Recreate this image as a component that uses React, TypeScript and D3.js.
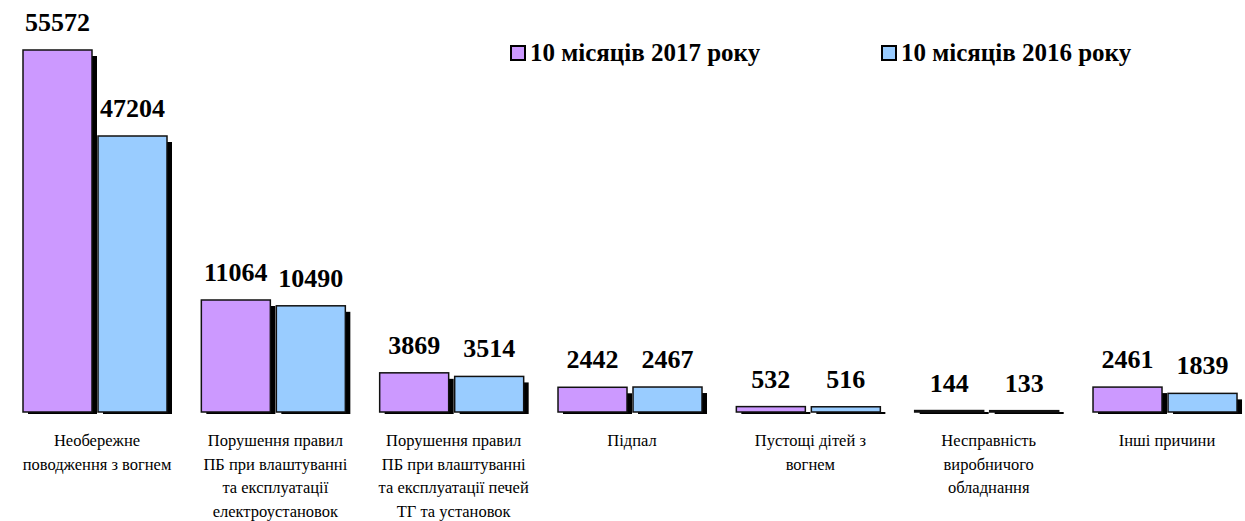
import React from 'react'
import * as d3 from 'd3'

const width = 1245
const height = 521

const categories = [
  ['Необережне', 'поводження з вогнем'],
  ['Порушення правил', 'ПБ при влаштуванні', 'та експлуатації', 'електроустановок'],
  ['Порушення правил', 'ПБ при влаштуванні', 'та експлуатації печей', 'ТГ та установок'],
  ['Підпал'],
  ['Пустощі дітей з', 'вогнем'],
  ['Несправність', 'виробничого', 'обладнання'],
  ['Інші причини'],
]
const series = ['10 місяців 2017 року', '10 місяців 2016 року']
const values2017 = [55572, 11064, 3869, 2442, 532, 144, 2461]
const values2016 = [47204, 10490, 3514, 2467, 516, 133, 1839]
const colors = ['#CC99FF', '#99CCFF']

const baseline = 412
const font = 'Liberation Serif, DejaVu Serif, serif'

export default function App() {
  const x0 = d3.scaleBand<number>()
    .domain(d3.range(categories.length))
    .range([23, 1243])
    .paddingInner(0.159)

  const x1 = d3.scaleBand<number>()
    .domain([0, 1])
    .range([0, 144])
    .paddingInner(0.08)

  // the original chart squeezes the tall bars, so the scale is piecewise
  const y = d3.scaleLinear()
    .domain([0, 11064, 47204, 55572])
    .range([baseline, 300, 136, 50])

  const rows = [values2017, values2016]

  return (
    <div style={{ position: 'absolute', left: 0, top: 0 }}>
      <svg width={width} height={height} style={{ display: 'block' }} fontFamily={font}>
        <rect width={width} height={height} fill="#fff" />

        {categories.map((cat, i) => (
          <g key={i} transform={`translate(${x0(i)},0)`}>
            {rows.map((vals, s) => {
              const v = vals[i]
              const top = y(v)
              const h = baseline - top
              const bx = x1(s) as number
              const bw = x1.bandwidth()
              const shTop = top + Math.min(6, h)
              return (
                <g key={s}>
                  <rect x={bx + 5} y={shTop} width={bw} height={baseline + 2 - shTop} fill="#000" />
                  <rect x={bx} y={top} width={bw} height={Math.max(h, 0.5)} fill={colors[s]} stroke="#111" strokeWidth={1.5} />
                  <text x={bx + bw / 2} y={top - 19} textAnchor="middle" fontFamily={font} fontWeight="bold" fontSize={26} fill="#000">{v}</text>
                </g>
              )
            })}
            <text x={74} y={446} textAnchor="middle" fontFamily={font} fontSize={16.5} fill="#000">
              {cat.map((line, k) => (
                <tspan key={k} x={74} dy={k === 0 ? 0 : 23.5}>{line}</tspan>
              ))}
            </text>
          </g>
        ))}

        {series.map((name, s) => {
          const lx = s === 0 ? 511 : 882
          return (
            <g key={name} transform={`translate(${lx},46)`}>
              <rect x={0} y={0} width={14} height={14} fill={colors[s]} stroke="#000" strokeWidth={2} />
              <text x={19} y={15} fontFamily={font} fontWeight="bold" fontSize={25} fill="#000">{name}</text>
            </g>
          )
        })}
      </svg>
    </div>
  )
}
